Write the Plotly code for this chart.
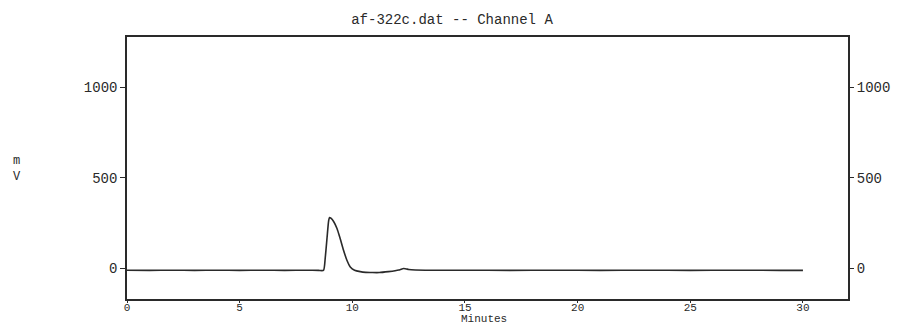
import plotly.graph_objects as go

# Chromatogram trace, channel A
minutes = [0, 1, 2, 3, 4, 5, 6, 7, 8, 8.5, 8.72, 8.8, 8.88, 8.95, 8.99, 9.05, 9.17,
           9.32, 9.46, 9.61, 9.76, 9.91, 10.1, 10.35, 10.6, 10.9, 11.2, 11.6, 11.9,
           12.06, 12.2, 12.28, 12.4, 12.5, 12.8, 13.5, 15, 17, 19, 21, 23, 25, 27, 29, 30]
millivolts = [-11, -12, -11, -12, -11, -12, -11, -12, -11, -12, -12, 60, 170, 262, 280, 276, 258,
              219, 164, 99, 44, 7, -11, -19, -23, -24, -24, -19, -14,
              -10, -4, -2, -4, -7, -10, -11, -11, -12, -11, -12, -11, -12, -11, -12, -12]

x_ticks = [0, 5, 10, 15, 20, 25, 30]
y_ticks = [0, 500, 1000]
y_tick_text = ["0", "500", "1000"]

title_text = "af-322c.dat -- Channel A"
x_title = "Minutes"
y_title = "m<br>V"

INK = "#2a2a2a"
FONT = "Liberation Mono"
W, H = 897, 325
L, R, T, B = 127, 49, 37, 26
Y_RANGE = [-170, 1276]

fig = go.Figure()
fig.add_trace(go.Scatter(
    x=minutes, y=millivolts, mode="lines",
    line=dict(color=INK, width=1.6, shape="spline", smoothing=0.6),
    showlegend=False, hoverinfo="skip",
))
# same series on the right-hand axis so its scale is drawn
fig.add_trace(go.Scatter(
    x=minutes, y=millivolts, mode="lines", yaxis="y2",
    line=dict(color="rgba(0,0,0,0)", width=0),
    showlegend=False, hoverinfo="skip",
))

axis_font = dict(family=FONT, size=14, color=INK)
small_font = dict(family=FONT, size=11, color=INK)

fig.update_layout(
    width=W, height=H,
    margin=dict(l=L, r=R, t=T, b=B, pad=0, autoexpand=False),
    paper_bgcolor="white", plot_bgcolor="white",
    font=axis_font,
    title=dict(text=title_text, x=452 / W, xanchor="center",
               y=1 - 19 / H, yanchor="middle", font=axis_font,
               automargin=False),
    xaxis=dict(range=[0, 32], tickvals=x_ticks, ticks="outside", ticklen=2,
               tickcolor=INK, showgrid=False, zeroline=False,
               showline=True, linecolor=INK, linewidth=1.5, mirror=True,
               tickfont=small_font, ticklabelstandoff=-5, automargin=False),
    yaxis=dict(range=Y_RANGE, tickvals=y_ticks, ticktext=y_tick_text,
               ticks="outside", ticklen=5, tickcolor=INK, showgrid=False,
               zeroline=False, showline=True, linecolor=INK, linewidth=1.5,
               mirror=True, tickfont=axis_font, automargin=False),
    yaxis2=dict(range=Y_RANGE, tickvals=y_ticks, ticktext=y_tick_text,
                overlaying="y", side="right", ticks="outside", ticklen=5,
                tickcolor=INK, showgrid=False, zeroline=False, showline=False,
                tickfont=axis_font, automargin=False),
    annotations=[
        dict(text=x_title, xref="paper", yref="paper",
             x=(484 - L) / (W - L - R), y=-(319 - (H - B)) / (H - T - B),
             xanchor="center", yanchor="middle", showarrow=False, font=small_font),
        dict(text=y_title, xref="paper", yref="paper",
             x=-(L - 17) / (W - L - R), y=((H - B) - 169) / (H - T - B),
             xanchor="center", yanchor="middle", showarrow=False,
             font=dict(family=FONT, size=12, color=INK)),
    ],
)

fig.write_html("out.html")
